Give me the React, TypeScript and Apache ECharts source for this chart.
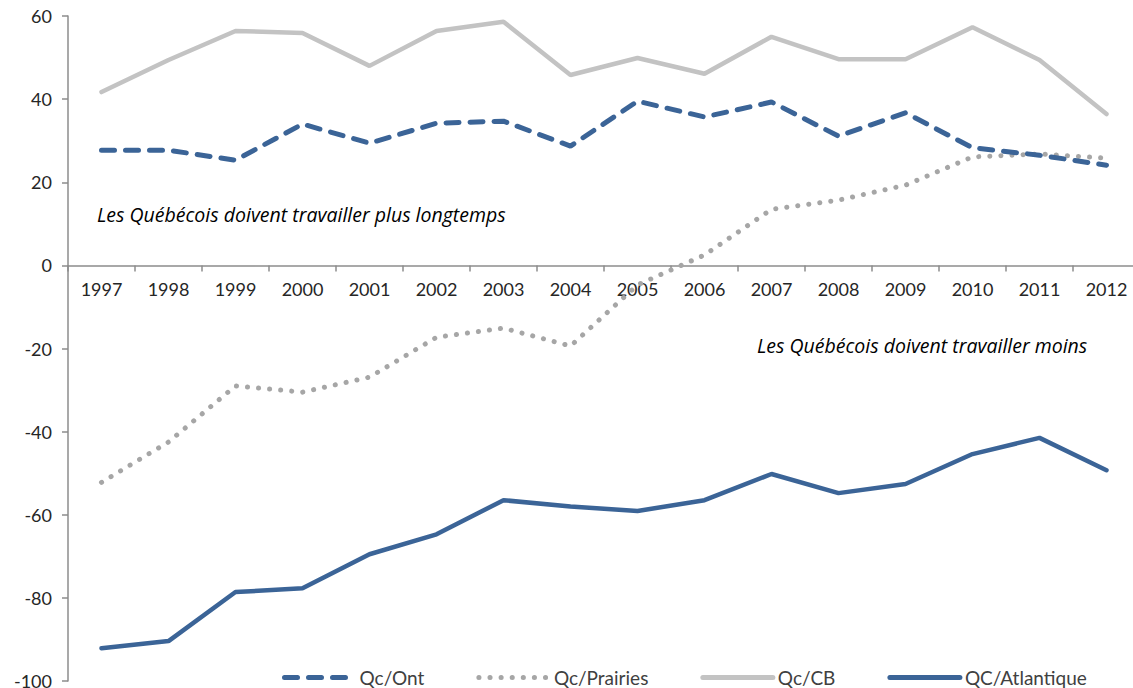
import React, { useEffect, useRef } from "react";
import * as echarts from "echarts";

const years = ["1997","1998","1999","2000","2001","2002","2003","2004","2005","2006","2007","2008","2009","2010","2011","2012"];
const qcOnt = [27.7, 27.7, 25.3, 34.0, 29.4, 34.2, 34.7, 28.7, 39.5, 35.7, 39.3, 31.1, 36.7, 28.3, 26.5, 24.1];
const qcPrairies = [-52.2, -42.5, -29.0, -30.5, -26.9, -17.3, -15.1, -19.4, -4.7, 2.5, 13.5, 15.7, 19.3, 26.1, 26.8, 25.8];
const qcCB = [41.7, 49.4, 56.4, 55.9, 48.0, 56.4, 58.6, 45.8, 49.9, 46.1, 55.0, 49.6, 49.6, 57.3, 49.4, 36.4];
const qcAtlantique = [-92.1, -90.4, -78.6, -77.7, -69.5, -64.7, -56.5, -58.0, -59.1, -56.5, -50.2, -54.8, -52.6, -45.4, -41.5, -49.3];
const seriesNames = ["Qc/Ont", "Qc/Prairies", "Qc/CB", "QC/Atlantique"];
const noteTop = "Les Québécois doivent travailler plus longtemps";
const noteBottom = "Les Québécois doivent travailler moins";

const Y_MIN = -100;
const Y_MAX = 60;
const BLUE = "#3b6497";
const AXIS_FONT = "Lato, 'DejaVu Sans', sans-serif";
const GRID_TOP = 16;
const GRID_BOTTOM = 7;
const H = 688;

export default function App() {
  const ref = useRef<HTMLDivElement>(null);
  useEffect(() => {
    if (!ref.current) return;
    const chart = echarts.init(ref.current, null, { renderer: "svg" });
    const gridH = H - GRID_TOP - GRID_BOTTOM;
    const zeroFromBottom = gridH * (0 - Y_MIN) / (Y_MAX - Y_MIN);
    chart.setOption({
      animation: false,
      backgroundColor: "#ffffff",
      grid: { left: 68, right: -7, top: GRID_TOP, bottom: GRID_BOTTOM, containLabel: false, outerBoundsMode: "none" },
      xAxis: {
        type: "category",
        data: years,
        boundaryGap: true,
        position: "bottom",
        offset: -zeroFromBottom,
        axisLine: { onZero: false, lineStyle: { color: "#8c8c8c", width: 1.5 } },
        axisTick: { show: true, length: 6, inside: false, lineStyle: { color: "#8c8c8c", width: 1.5 } },
        axisLabel: { color: "#262626", fontSize: 18, fontFamily: AXIS_FONT, margin: 15 },
        splitLine: { show: false },
      },
      yAxis: {
        type: "value",
        min: Y_MIN,
        max: Y_MAX,
        interval: 20,
        axisLine: { show: true, lineStyle: { color: "#8c8c8c", width: 1.5 } },
        axisTick: { show: true, length: 6, lineStyle: { color: "#8c8c8c", width: 1.5 } },
        axisLabel: { color: "#262626", fontSize: 18, fontFamily: AXIS_FONT, margin: 16 },
        splitLine: { show: false },
      },
      legend: {
        data: seriesNames,
        left: 282,
        top: 668,
        padding: 0,
        itemWidth: 70,
        itemHeight: 18,
        itemGap: 52,
        textStyle: { color: "#404040", fontSize: 19, fontFamily: AXIS_FONT },
        lineStyle: { width: 5 },
        itemStyle: { color: "rgba(0,0,0,0)", borderWidth: 0, opacity: 0 },
      },
      series: [
        {
          name: seriesNames[0], type: "line", data: qcOnt, symbol: "none",
          lineStyle: { color: BLUE, width: 5, type: [13, 11], cap: "round" },
          itemStyle: { color: BLUE }, z: 4,
        },
        {
          name: seriesNames[1], type: "line", data: qcPrairies, symbol: "none",
          lineStyle: { color: "#a6a6a6", width: 5, type: [0.1, 11], cap: "round" },
          itemStyle: { color: "#a6a6a6" }, z: 3,
        },
        {
          name: seriesNames[2], type: "line", data: qcCB, symbol: "none",
          lineStyle: { color: "#c3c3c3", width: 4.5, cap: "round" },
          itemStyle: { color: "#c3c3c3" }, z: 2,
        },
        {
          name: seriesNames[3], type: "line", data: qcAtlantique, symbol: "none",
          lineStyle: { color: BLUE, width: 4.5, cap: "round" },
          itemStyle: { color: BLUE }, z: 2,
        },
      ],
      graphic: [
        {
          type: "text", left: 97, top: 204,
          style: { text: noteTop, fill: "#000", font: "italic 19.5px 'Open Sans', sans-serif" },
        },
        {
          type: "text", left: 757, top: 335,
          style: { text: noteBottom, fill: "#000", font: "italic 19.5px 'Open Sans', sans-serif" },
        },
      ],
    });
    return () => chart.dispose();
  }, []);
  return <div ref={ref} style={{ position: "fixed", left: 0, top: 0, width: 1133, height: 688 }} />;
}
